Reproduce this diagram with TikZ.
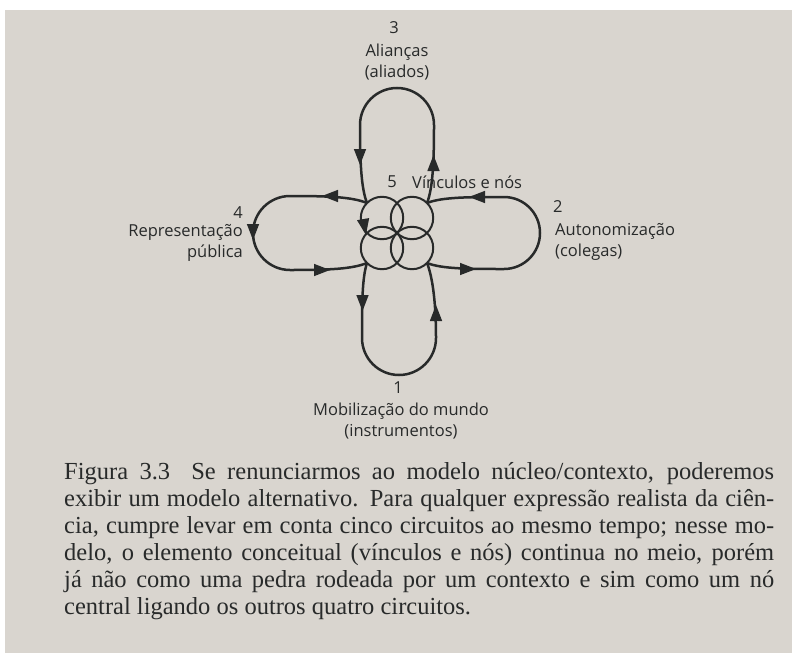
\documentclass[tikz,border=0pt]{standalone}
\usepackage{fontspec}
\setmainfont{Open Sans}
\newfontfamily\capfont{Liberation Serif}
\usepackage{tikz}
\usetikzlibrary{arrows.meta}

\definecolor{paper}{RGB}{217,213,207}
\definecolor{ink}{RGB}{40,42,42}

% filled arrow head at (x,y), pointing at angle
\newcommand{\flowmark}[3]{%
  \fill[ink, shift={(#1,#2)}, rotate=#3] (8,0) -- (-8,6.2) -- (-8,-6.2) -- cycle;}

\begin{document}
\begin{tikzpicture}[x=1pt, y=-1pt,
  circuit/.style={ink, line width=2.5pt},
  knot/.style={ink, line width=2pt},
  lbl/.style={font=\fontsize{16.5}{21}\selectfont, text=ink, inner sep=0pt},
  capline/.style={font=\capfont\fontsize{24.5}{27}\selectfont, text=ink, inner sep=0pt, anchor=base west}]
\useasboundingbox (0,0) rectangle (792,653);
\fill[white] (0,0) rectangle (792,653);
\fill[paper] (5,10) rectangle (792,653);

% corners of the knot
\coordinate (ul) at (367,203);
\coordinate (ur) at (427,203);
\coordinate (ll) at (367,263);
\coordinate (lr) at (427,263);

% circuit 5: links and knots
\foreach \dx/\dy in {-15/-15, 15/-15, -15/15, 15/15}
  \draw[knot] ({397+\dx},{233+\dy}) circle (21.2);

% circuit 3 (top)
\draw[circuit] (ul) .. controls (361,188) and (360,160) .. (360,125)
  arc[start angle=180, end angle=360, radius=37]
  .. controls (434,160) and (433,188) .. (ur);
% circuit 1 (bottom)
\draw[circuit] (ll) .. controls (362,278) and (362,305) .. (362,338)
  arc[start angle=180, end angle=0, radius=37]
  .. controls (436,305) and (433,278) .. (lr);
% circuit 4 (left)
\draw[circuit] (ul) .. controls (352,197) and (330,196) .. (290,196)
  arc[start angle=270, end angle=90, radius=37]
  .. controls (330,270) and (352,269) .. (ll);
% circuit 2 (right)
\draw[circuit] (ur) .. controls (442,197) and (470,197) .. (504,197)
  arc[start angle=-90, end angle=90, radius=36]
  .. controls (470,269) and (442,269) .. (lr);

% arrow heads
\flowmark{360}{157}{-90}
\flowmark{364.5}{227}{-80}
\flowmark{362.5}{303}{-90}
\flowmark{436}{313}{90}
\flowmark{433.5}{163}{90}
\flowmark{330}{196}{180}
\flowmark{477}{197}{180}
\flowmark{253}{232}{-90}
\flowmark{322}{270}{0}
\flowmark{468}{269}{0}

% labels
\node[lbl] (num3) at (394,28) {3};
\node[lbl, align=center] (lab3) at (397,62) {Alianças\\(aliados)};
\node[lbl] (num5) at (392,182) {5};
\node[lbl, anchor=west] (lab5) at (412,182) {Vínculos e nós};
\draw[ink, line width=1pt] ([xshift=19pt]lab5.south west) -- (ur);
\node[lbl, anchor=east] (num4) at (243,213) {4};
\node[lbl, align=right, anchor=east] (lab4) at (243,243) {Representação\\pública};
\node[lbl, anchor=west] (num2) at (553,207) {2};
\node[lbl, align=left, anchor=west] (lab2) at (555,242) {Autonomização\\(colegas)};
\node[lbl] (num1) at (398,388) {1};
\node[lbl, align=center] (lab1) at (401,421) {Mobilização do mundo\\(instrumentos)};

% caption
\node[capline] (cap1) at (64,479) {\makebox[710pt][s]{Figura 3.3\hspace{0.4em} Se renunciarmos ao modelo núcleo/contexto, poderemos}};
\node[capline] (cap2) at (64,506) {\makebox[710pt][s]{exibir um modelo alternativo. Para qualquer expressão realista da ciên-}};
\node[capline] (cap3) at (64,533) {\makebox[710pt][s]{cia, cumpre levar em conta cinco circuitos ao mesmo tempo; nesse mo-}};
\node[capline] (cap4) at (64,560) {\makebox[710pt][s]{delo, o elemento conceitual (vínculos e nós) continua no meio, porém}};
\node[capline] (cap5) at (64,587) {\makebox[710pt][s]{já não como uma pedra rodeada por um contexto e sim como um nó}};
\node[capline] (cap6) at (64,614) {central ligando os outros quatro circuitos.};
\end{tikzpicture}
\end{document}
